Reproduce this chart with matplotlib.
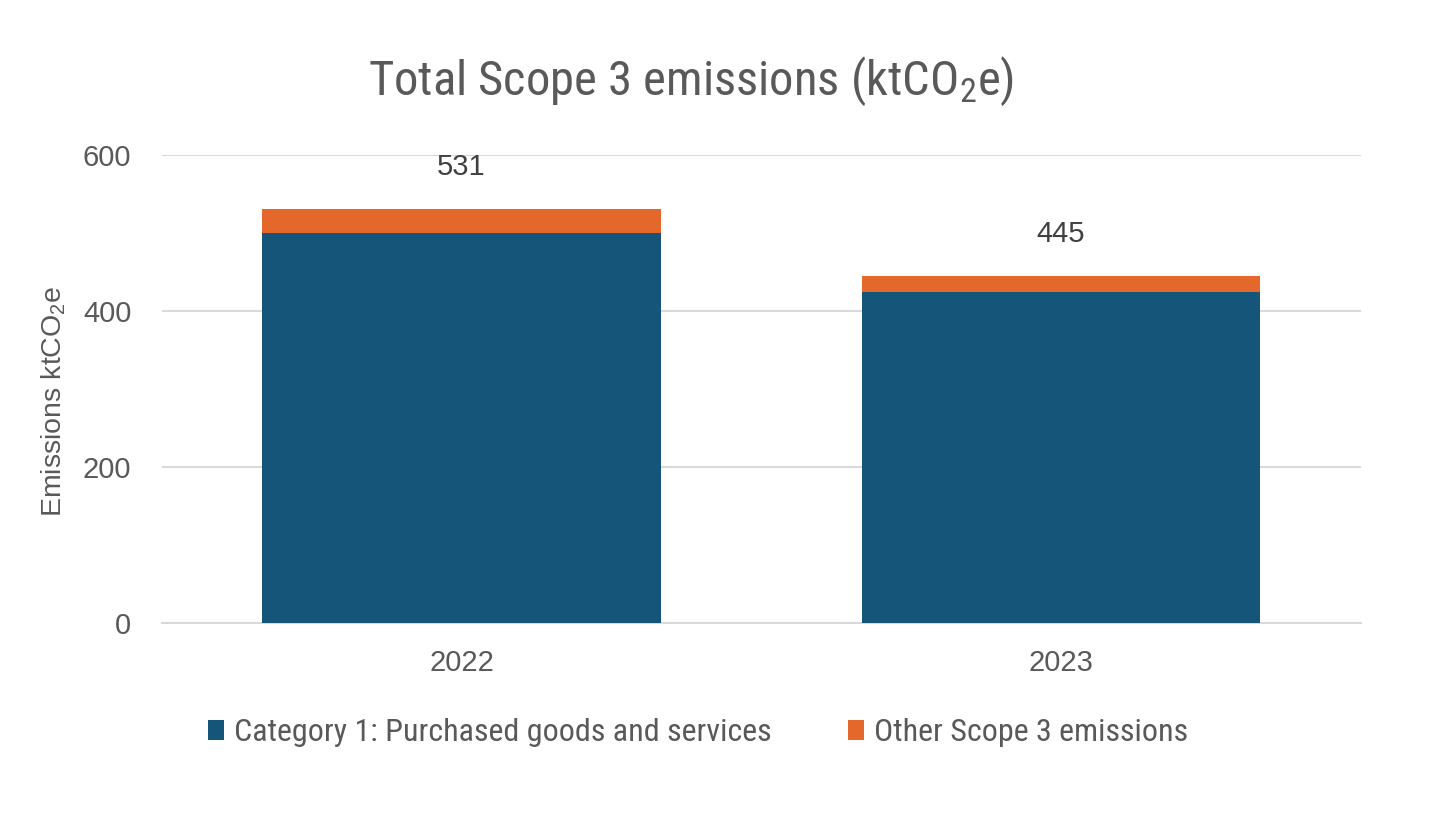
import matplotlib
matplotlib.use("Agg")
import matplotlib.pyplot as plt
import numpy as np

years = ["2022", "2023"]
cat1 = [500, 425]
other = [31, 20]
totals = [531, 445]
series_names = ["Category 1: Purchased goods and services", "Other Scope 3 emissions"]

blue = "#16557A"
orange = "#E4672B"
narrow = ["Roboto Condensed", "DejaVu Sans"]

plt.rcParams["font.family"] = ["Liberation Sans", "DejaVu Sans"]
plt.rcParams["mathtext.default"] = "regular"

fig = plt.figure(figsize=(14.39, 8.17), dpi=100)
ax = fig.add_axes([0.1125, 0.2375, 0.833, 0.5725])

x = np.arange(len(years))
ax.bar(x, cat1, width=0.665, color=blue, label=series_names[0], zorder=3)
ax.bar(x, other, width=0.665, bottom=cat1, color=orange, label=series_names[1], zorder=3)

for xi, t in zip(x, totals):
    ax.annotate(str(t), (xi, t), xytext=(0, 20), textcoords="offset points",
                ha="center", va="bottom", fontsize=21, color="#404040")

ax.set_xlim(-0.5, 1.5)
ax.set_ylim(0, 600)
ax.set_yticks([0, 200, 400, 600])
ax.set_xticks(x)
ax.set_xticklabels(years)
ax.tick_params(axis="both", length=0, labelsize=21, colors="#595959")
ax.tick_params(axis="x", pad=19)
ax.tick_params(axis="y", pad=22)
ax.grid(axis="y", color="#D9D9D9", linewidth=1.5, zorder=0)
for s in ["top", "right", "left"]:
    ax.spines[s].set_visible(False)
ax.spines["bottom"].set_color("#D9D9D9")
ax.spines["bottom"].set_linewidth(1.5)

ax.set_ylabel("Emissions ktCO$_2$e", fontsize=20.5, color="#595959")
ax.yaxis.set_label_coords(-0.078, 0.474)

fig.text(0.48, 0.9, "Total Scope 3 emissions (ktCO$_2$e)", ha="center", va="center",
         fontsize=35, color="#595959", family=narrow)

fig.legend(loc="center", bbox_to_anchor=(0.485, 0.103), ncol=2, frameon=False,
           prop={"family": narrow, "size": 23}, labelcolor="#595959",
           handlelength=0.5, handleheight=0.55, handletextpad=0.3, columnspacing=2.4)

fig.savefig("out.png", dpi=100)
